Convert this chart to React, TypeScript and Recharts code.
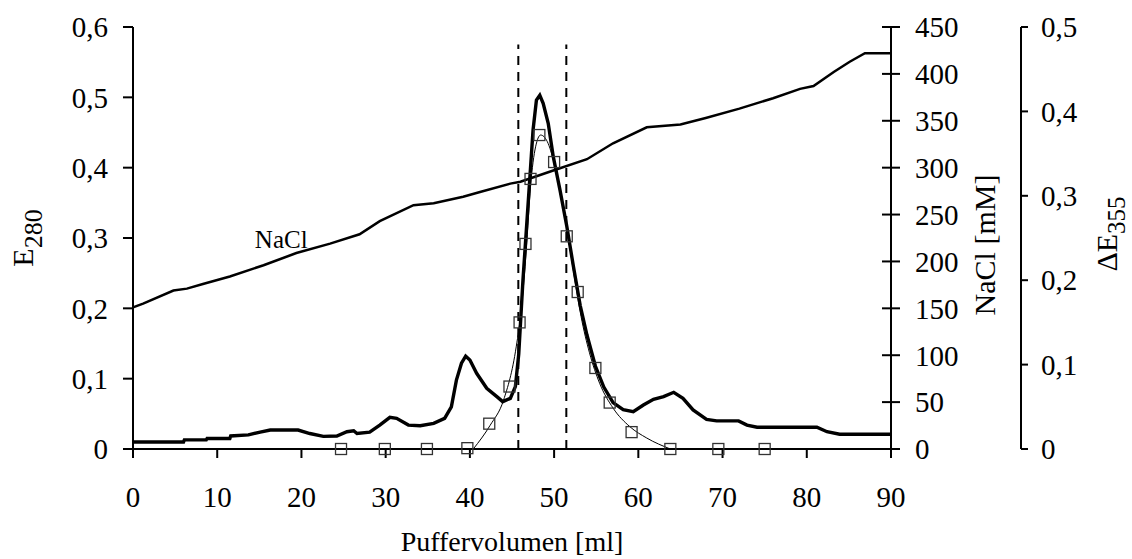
import React from "react";
import {
  ComposedChart, Line, XAxis, YAxis, ReferenceLine, ReferenceDot,
} from "recharts";

const FONT = '"Liberation Serif", "Times New Roman", serif';

// E280 absorbance trace (ml, E280)
const e280Trace = [
  { x: 0, y: 0.01 }, { x: 6.0, y: 0.01 }, { x: 6.1, y: 0.013 }, { x: 8.7, y: 0.013 },
  { x: 8.8, y: 0.015 }, { x: 11.5, y: 0.015 }, { x: 11.6, y: 0.0185 }, { x: 13.7, y: 0.02 },
  { x: 15.1, y: 0.024 }, { x: 16.3, y: 0.027 }, { x: 19.6, y: 0.027 }, { x: 21.0, y: 0.022 },
  { x: 22.6, y: 0.018 }, { x: 24.2, y: 0.0185 }, { x: 25.4, y: 0.0246 }, { x: 26.2, y: 0.026 },
  { x: 26.6, y: 0.022 }, { x: 28.1, y: 0.024 }, { x: 29.3, y: 0.034 }, { x: 30.5, y: 0.045 },
  { x: 31.3, y: 0.0436 }, { x: 32.7, y: 0.034 }, { x: 34.1, y: 0.033 }, { x: 35.7, y: 0.0365 },
  { x: 37.0, y: 0.0436 }, { x: 37.8, y: 0.06 }, { x: 38.4, y: 0.098 }, { x: 39.0, y: 0.122 },
  { x: 39.5, y: 0.132 }, { x: 40.0, y: 0.1265 }, { x: 40.8, y: 0.1076 }, { x: 42.0, y: 0.0863 },
  { x: 43.2, y: 0.0744 }, { x: 43.9, y: 0.0673 }, { x: 44.8, y: 0.072 }, { x: 45.4, y: 0.0886 },
  { x: 45.8, y: 0.135 }, { x: 46.3, y: 0.24 }, { x: 46.7, y: 0.311 }, { x: 47.1, y: 0.382 },
  { x: 47.5, y: 0.4536 }, { x: 47.9, y: 0.496 }, { x: 48.3, y: 0.503 }, { x: 48.7, y: 0.4915 },
  { x: 49.3, y: 0.463 }, { x: 49.9, y: 0.4156 }, { x: 50.7, y: 0.368 }, { x: 51.5, y: 0.317 },
  { x: 52.3, y: 0.259 }, { x: 53.1, y: 0.204 }, { x: 53.9, y: 0.162 }, { x: 54.9, y: 0.118 },
  { x: 55.9, y: 0.088 }, { x: 57.0, y: 0.066 }, { x: 58.2, y: 0.056 }, { x: 59.4, y: 0.053 },
  { x: 60.6, y: 0.0626 }, { x: 61.8, y: 0.0707 }, { x: 63.0, y: 0.0744 }, { x: 64.2, y: 0.0806 },
  { x: 65.3, y: 0.072 }, { x: 66.5, y: 0.0555 }, { x: 68.1, y: 0.042 }, { x: 69.3, y: 0.04 },
  { x: 71.9, y: 0.04 }, { x: 72.9, y: 0.034 }, { x: 74.1, y: 0.031 }, { x: 81.2, y: 0.031 },
  { x: 82.4, y: 0.0246 }, { x: 83.9, y: 0.021 }, { x: 90, y: 0.021 },
];

// NaCl gradient (ml, mM)
const naclTrace = [
  { x: 0, y: 151 }, { x: 1.2, y: 155 }, { x: 4.8, y: 169 }, { x: 6.4, y: 171 },
  { x: 8.3, y: 176 }, { x: 11.5, y: 184 }, { x: 15.5, y: 196 }, { x: 19.4, y: 209 },
  { x: 23.4, y: 219 }, { x: 26.9, y: 229 }, { x: 29.3, y: 243 }, { x: 33.3, y: 260 },
  { x: 35.7, y: 262 }, { x: 39.2, y: 269 }, { x: 41.2, y: 274 }, { x: 44.8, y: 283 },
  { x: 46.0, y: 285 }, { x: 49.9, y: 297 }, { x: 53.9, y: 309 }, { x: 57.0, y: 326 },
  { x: 61.0, y: 343 }, { x: 65.0, y: 346 }, { x: 68, y: 353 }, { x: 72, y: 363 },
  { x: 76, y: 374 }, { x: 79.2, y: 384 }, { x: 80.8, y: 387 }, { x: 83.2, y: 402 },
  { x: 85.1, y: 413 }, { x: 86.9, y: 422 }, { x: 90, y: 422 },
];

// ΔE355 measured fractions (ml, ΔE355)
const de355Points = [
  { x: 24.7, y: 0 }, { x: 29.9, y: 0 }, { x: 34.9, y: 0 }, { x: 39.7, y: 0.001 },
  { x: 42.3, y: 0.03 }, { x: 44.7, y: 0.074 }, { x: 45.9, y: 0.15 }, { x: 46.6, y: 0.243 },
  { x: 47.2, y: 0.32 }, { x: 48.25, y: 0.372 }, { x: 50.0, y: 0.34 }, { x: 51.5, y: 0.252 },
  { x: 52.8, y: 0.186 }, { x: 54.9, y: 0.096 }, { x: 56.6, y: 0.055 }, { x: 59.2, y: 0.02 },
  { x: 63.8, y: 0 }, { x: 69.5, y: 0 }, { x: 75.0, y: 0 },
];

// smooth fit through ΔE355
const de355Fit = [
  { x: 40.4, y: 0 }, { x: 42.4, y: 0.028 }, { x: 44.0, y: 0.058 }, { x: 45.5, y: 0.121 },
  { x: 46.1, y: 0.165 }, { x: 46.7, y: 0.236 }, { x: 47.2, y: 0.311 }, { x: 47.8, y: 0.358 },
  { x: 48.4, y: 0.372 }, { x: 49.2, y: 0.364 }, { x: 50.0, y: 0.339 }, { x: 50.8, y: 0.303 },
  { x: 51.6, y: 0.256 }, { x: 52.4, y: 0.204 }, { x: 53.2, y: 0.157 }, { x: 54.2, y: 0.114 },
  { x: 55.4, y: 0.078 }, { x: 57.0, y: 0.0485 }, { x: 59.0, y: 0.0264 }, { x: 61.0, y: 0.013 },
  { x: 63.8, y: 0 },
];

const poolBounds = [45.75, 51.45];
const poolTop = 0.575;

const xTicks = [0, 10, 20, 30, 40, 50, 60, 70, 80, 90];
const e280Ticks = [0, 0.1, 0.2, 0.3, 0.4, 0.5, 0.6];
const naclTicks = [0, 50, 100, 150, 200, 250, 300, 350, 400, 450];
const de355Ticks = [0, 0.1, 0.2, 0.3, 0.4, 0.5];

const comma = (v: number) => String(v).replace(".", ",");
const tickFont = { fontSize: 29, fill: "#000", fontFamily: FONT };

function NaclTick(props: any) {
  const { x, y, payload } = props;
  const ax = x - 24;
  return (
    <g>
      <line x1={ax - 9} x2={ax + 9} y1={y} y2={y} stroke="#000" strokeWidth={2} />
      <text x={x} y={y} dy="0.355em" textAnchor="start" fontSize={29} fontFamily={FONT} fill="#000">
        {payload.value}
      </text>
    </g>
  );
}

function RotTitle({ bx, cy, main, sub, size = 30, subSize = 26, shift = 9 }: any) {
  return (
    <text transform={`rotate(-90 ${bx} ${cy})`} fontFamily={FONT} fontSize={size} fill="#000">
      <tspan x={bx} y={cy} textAnchor="middle">
        {main}
        {sub ? <tspan dy={shift} fontSize={subSize}>{sub}</tspan> : null}
      </tspan>
    </text>
  );
}

const Square = (p: any) => {
  if (p.cx == null || p.cy == null) return null;
  return (
    <rect key={`sq-${p.index}`} x={p.cx - 5.5} y={p.cy - 5.5} width={11} height={11}
      fill="none" stroke="#333" strokeWidth={1.3} />
  );
};

export default function App() {
  return (
    <div style={{ position: "absolute", left: 0, top: 0, background: "#fff" }}>
      <ComposedChart width={1132} height={559} margin={{ top: 27, right: 0, bottom: 0, left: 0 }}>
        <XAxis
          dataKey="x" type="number" domain={[0, 90]} ticks={xTicks} height={110}
          stroke="#000" strokeWidth={2} tickSize={9} tickMargin={28}
          tick={tickFont} tickLine={{ stroke: "#000", strokeWidth: 2 }}
          label={{ value: "Puffervolumen [ml]", position: "insideBottom", offset: 8, fontSize: 28, fill: "#000", fontFamily: FONT }}
        />
        <YAxis
          yAxisId="e280" orientation="left" domain={[0, 0.6]} ticks={e280Ticks} width={133}
          stroke="#000" strokeWidth={2} tickSize={10} tickMargin={15} tickFormatter={comma}
          tick={tickFont} tickLine={{ stroke: "#000", strokeWidth: 2 }}
          label={{ content: (p: any) => <RotTitle bx={p.viewBox.x + 33} cy={p.viewBox.y + p.viewBox.height / 2} main="E" sub="280" /> }}
        />
        <YAxis
          yAxisId="r2de" orientation="right" domain={[0, 0.5]} ticks={de355Ticks} width={111}
          stroke="#000" strokeWidth={2} tickSize={7} tickMargin={13} tickFormatter={comma}
          tick={tickFont} tickLine={{ stroke: "#000", strokeWidth: 2 }}
          label={{ content: (p: any) => <RotTitle bx={p.viewBox.x + 96} cy={p.viewBox.y + p.viewBox.height / 2 - 4} main="ΔE" sub="355" subSize={25} shift={8} /> }}
        />
        <YAxis
          yAxisId="r1nacl" orientation="right" domain={[0, 450]} ticks={naclTicks} width={130}
          stroke="#000" strokeWidth={2} tickSize={9} tickMargin={15}
          tick={<NaclTick />} tickLine={false}
          label={{ content: (p: any) => <RotTitle bx={p.viewBox.x + 104} cy={p.viewBox.y + p.viewBox.height / 2 + 7} main="NaCl [mM]" /> }}
        />

        {poolBounds.map((b) => (
          <ReferenceLine key={b} yAxisId="e280" segment={[{ x: b, y: 0 }, { x: b, y: poolTop }]}
            stroke="#000" strokeWidth={2} strokeDasharray="9 7" />
        ))}

        <Line data={naclTrace} yAxisId="r1nacl" dataKey="y" type="linear" stroke="#000" strokeWidth={2.5}
          dot={false} activeDot={false} isAnimationActive={false} />
        <Line data={de355Fit} yAxisId="r2de" dataKey="y" type="monotone" stroke="#000" strokeWidth={1}
          dot={false} activeDot={false} isAnimationActive={false} />
        <Line data={e280Trace} yAxisId="e280" dataKey="y" type="linear" stroke="#000" strokeWidth={3.4}
          dot={false} activeDot={false} isAnimationActive={false} />
        <Line data={de355Points} yAxisId="r2de" dataKey="y" stroke="none"
          dot={Square} activeDot={false} isAnimationActive={false} />

        <ReferenceDot yAxisId="e280" x={17.6} y={0.299} r={0} fill="none" stroke="none"
          label={{ value: "NaCl", position: "center", fontSize: 25, fill: "#000", fontFamily: FONT }} />
      </ComposedChart>
    </div>
  );
}
